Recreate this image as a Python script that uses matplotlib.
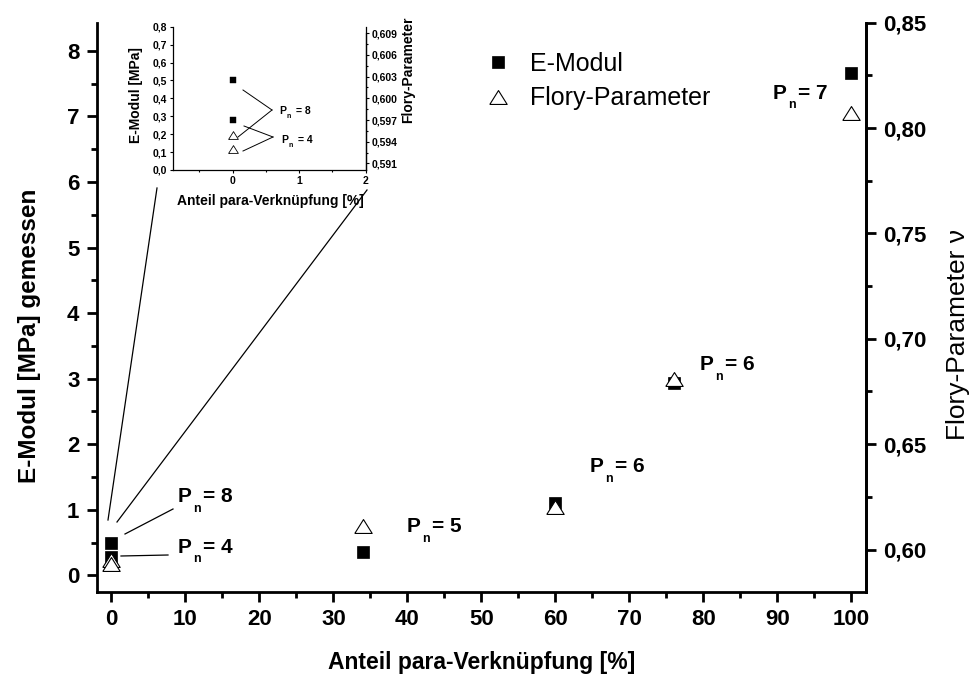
import matplotlib
matplotlib.use('Agg')
import matplotlib.pyplot as plt
from matplotlib.lines import Line2D
from matplotlib.ticker import MultipleLocator, FuncFormatter

plt.rcParams['font.family'] = ['Liberation Sans', 'DejaVu Sans']

# data
para_anteil = [0, 0, 34, 60, 76, 100]
e_modul = [0.50, 0.28, 0.36, 1.10, 2.94, 7.66]
flory = [0.595, 0.593, 0.611, 0.620, 0.681, 0.807]

inset_x = [0, 0]
inset_e_modul = [0.50, 0.28]
inset_flory = [0.595, 0.593]

# annotation labels: (P_n value, x px, baseline px)
pn_labels = [('8', 178, 502), ('4', 178, 553), ('5', 407, 532),
             ('6', 590, 472), ('6', 700, 370), ('7', 773, 99)]
inset_pn_labels = [('8', 279, 114), ('4', 281, 143)]

W, H = 971, 681


def px(x, y):
    """pixel position -> figure fraction"""
    return x / W, 1 - y / H


def comma(fmt):
    return FuncFormatter(lambda v, p: (fmt % v).replace('.', ','))


def pn_text(fig, n, x, y, size, sub_size, dx_sub, dy_sub, dx_eq):
    # P with a small, low subscript n, then "= n"
    fig.text(*px(x, y), 'P', fontsize=size, fontweight='bold', va='baseline')
    fig.text(*px(x + dx_sub, y + dy_sub), 'n', fontsize=sub_size,
             fontweight='bold', va='baseline')
    fig.text(*px(x + dx_eq, y), '= ' + n, fontsize=size, fontweight='bold',
             va='baseline')


tri = [(-1, -0.8), (1, -0.8), (0, 0.8), (-1, -0.8)]

fig = plt.figure(figsize=(9.71, 6.81), dpi=100)
ax = fig.add_axes([96.7 / W, 1 - 591.7 / H, (866 - 96.7) / W, (591.7 - 22.7) / H])
ax2 = ax.twinx()

sq, = ax.plot(para_anteil, e_modul, ls='none', marker='s', ms=9, mfc='black',
              mec='black', mew=0.5, zorder=3)
tr, = ax2.plot(para_anteil, flory, ls='none', marker=tri, ms=12.5, mfc='white',
               mec='black', mew=0.8, zorder=3)

ax.set_xlim(-2, 102)
ax.set_ylim(-0.25, 8.43)
ax2.set_ylim(0.58, 0.85)

ax.xaxis.set_major_locator(MultipleLocator(10))
ax.xaxis.set_minor_locator(MultipleLocator(5))
ax.yaxis.set_major_locator(MultipleLocator(1))
ax.yaxis.set_minor_locator(MultipleLocator(0.5))
ax2.yaxis.set_major_locator(MultipleLocator(0.05))
ax2.yaxis.set_minor_locator(MultipleLocator(0.025))
ax2.yaxis.set_major_formatter(comma('%.2f'))

for a in (ax, ax2):
    a.spines['top'].set_visible(False)
    for s in a.spines.values():
        s.set_linewidth(2)
    a.tick_params(which='major', direction='out', length=7.5, width=2,
                  labelsize=16, pad=5)
    a.tick_params(which='minor', direction='out', length=4.5, width=2)
    for lab in a.get_xticklabels() + a.get_yticklabels():
        lab.set_fontweight('bold')
ax2.spines['left'].set_visible(False)
ax2.spines['bottom'].set_visible(False)

fig.text(*px(482, 662), 'Anteil para-Verknüpfung [%]', ha='center', va='center',
         fontsize=16.5, fontweight='bold')
fig.text(*px(30, 336), 'E-Modul [MPa] gemessen', ha='center', va='center',
         rotation=90, fontsize=17.5, fontweight='bold')
fig.text(*px(958, 334), 'Flory-Parameter ν', ha='center', va='center',
         rotation=90, fontsize=19)

ax2.legend([sq, tr], ['E-Modul', 'Flory-Parameter'], loc='upper left',
           bbox_to_anchor=px(485, 52), bbox_transform=fig.transFigure,
           frameon=False, fontsize=18, handlelength=1.0, handletextpad=0.8,
           borderpad=0, labelspacing=0.42, borderaxespad=0)

for n, x, y in pn_labels:
    pn_text(fig, n, x, y, 15, 9, 15, 9.5, 25)

# connector lines (pixel layout)
lines = [((125, 534), (173, 509)), ((121, 556), (168, 555)),
         ((108, 520), (157, 188)), ((117, 522), (367, 190))]
for (x0, y0), (x1, y1) in lines:
    fig.add_artist(Line2D([x0 / W, x1 / W], [1 - y0 / H, 1 - y1 / H],
                          color='black', lw=0.9))

# inset
axi = fig.add_axes([172.7 / W, 1 - 170 / H, (365.7 - 172.7) / W, (170 - 26.7) / H])
axi.patch.set_alpha(0)
axi2 = axi.twinx()
axi.plot(inset_x, inset_e_modul, ls='none', marker='s', ms=5, mfc='black', mec='black', mew=0.3)
axi2.plot(inset_x, inset_flory, ls='none', marker=tri, ms=7, mfc='white', mec='black', mew=0.6)
axi.set_xlim(-0.9, 2)
axi.set_ylim(0, 0.8)
axi2.set_ylim(0.5901, 0.6099)
axi.xaxis.set_major_locator(MultipleLocator(1))
axi.xaxis.set_minor_locator(MultipleLocator(0.5))
axi.yaxis.set_major_locator(MultipleLocator(0.1))
axi.yaxis.set_major_formatter(comma('%.1f'))
axi2.set_yticks([0.591, 0.594, 0.597, 0.600, 0.603, 0.606, 0.609])
axi2.yaxis.set_minor_locator(MultipleLocator(0.0015))
axi2.yaxis.set_major_formatter(comma('%.3f'))
axi2.spines['right'].set_bounds(0.5901, 0.609)
for a in (axi, axi2):
    a.spines['top'].set_visible(False)
    for s in a.spines.values():
        s.set_linewidth(0.9)
    a.tick_params(which='major', direction='out', length=2.5, width=0.8,
                  labelsize=7.5, pad=1.5)
    a.tick_params(which='minor', direction='out', length=1.5, width=0.8)
    for lab in a.get_xticklabels() + a.get_yticklabels():
        lab.set_fontweight('bold')
axi2.spines['left'].set_visible(False)
axi2.spines['bottom'].set_visible(False)

fig.text(*px(270, 201), 'Anteil para-Verknüpfung [%]', ha='center', va='center',
         fontsize=10, fontweight='bold')
fig.text(*px(136, 95), 'E-Modul [MPa]', ha='center', va='center', rotation=90,
         fontsize=10, fontweight='bold')
fig.text(*px(408, 70), 'Flory-Parameter', ha='center', va='center', rotation=90,
         fontsize=10, fontweight='bold')

for n, x, y in inset_pn_labels:
    pn_text(fig, n, x, y, 7.5, 5, 7.4, 4.3, 16.5)

inset_lines = [((243, 90), (272, 110)), ((238, 137), (272, 110)),
               ((244, 126), (273, 137)), ((243, 151), (273, 137))]
for (x0, y0), (x1, y1) in inset_lines:
    fig.add_artist(Line2D([x0 / W, x1 / W], [1 - y0 / H, 1 - y1 / H],
                          color='black', lw=0.7))

fig.savefig('out.png', dpi=100)
